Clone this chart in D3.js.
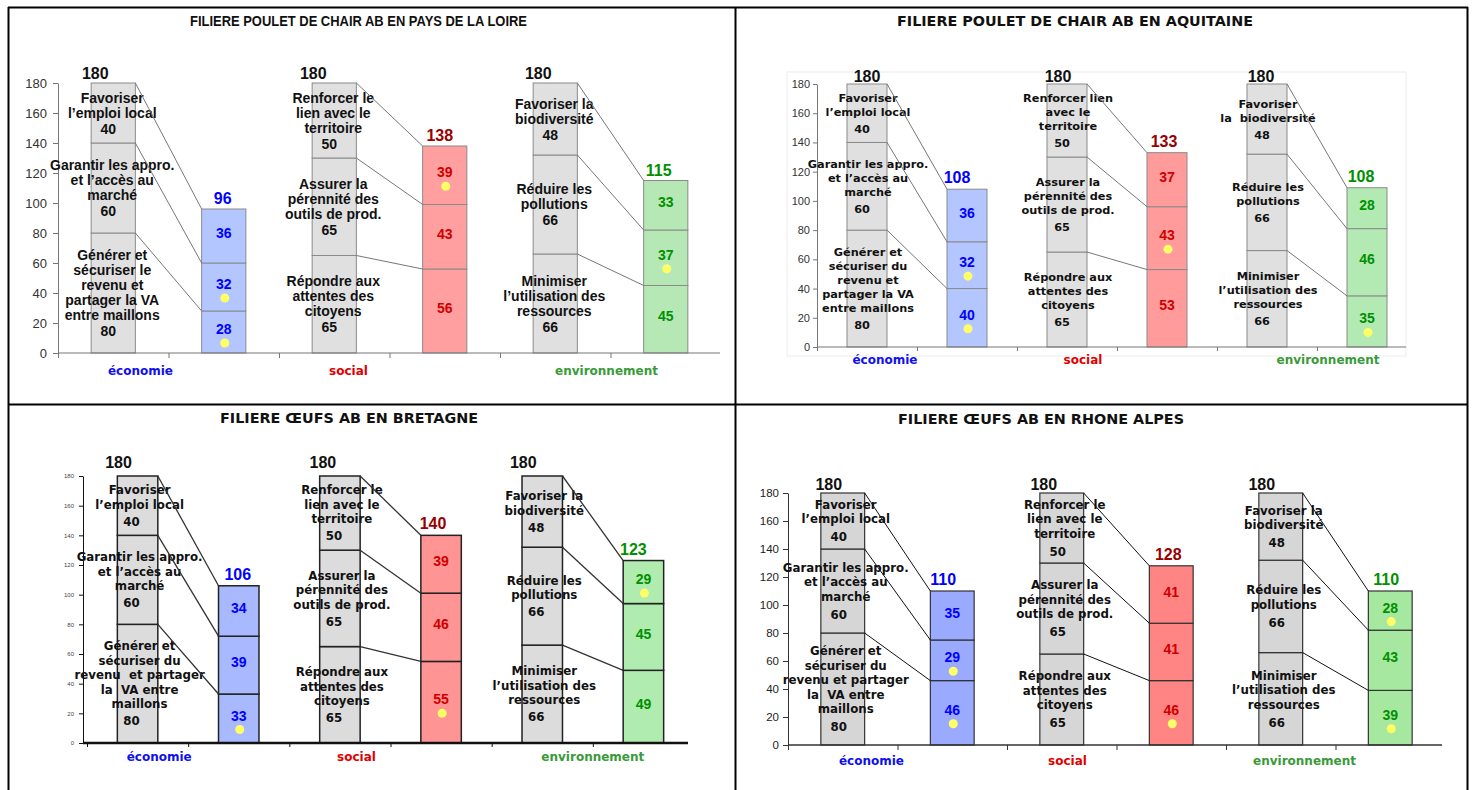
<!DOCTYPE html>
<html>
<head>
<meta charset="utf-8">
<script src="https://cdn.jsdelivr.net/npm/d3@7"></script>
<style>
body { margin: 0; background: #fff; }
</style>
</head>
<body>
<script>
var W = 1475, H = 790;

// ---- data ----
var panelTitles = [
    "FILIERE POULET DE CHAIR AB EN PAYS DE LA LOIRE",
    "FILIERE POULET DE CHAIR AB EN AQUITAINE",
    "FILIERE ŒUFS AB EN BRETAGNE",
    "FILIERE ŒUFS AB EN RHONE ALPES"
];
var pillars = ["économie", "social", "environnement"];
var yTicks = [0, 20, 40, 60, 80, 100, 120, 140, 160, 180];

// reference scores (grey bars), bottom to top
var refScores = [[80, 60, 40], [65, 65, 50], [66, 66, 48]];

// scores obtained (coloured bars), bottom to top
var scoresLoire     = [[28, 32, 36], [56, 43, 39], [45, 37, 33]];
var scoresAquitaine = [[40, 32, 36], [53, 43, 37], [35, 46, 28]];
var scoresBretagne  = [[33, 39, 34], [55, 46, 39], [49, 45, 29]];
var scoresRhone     = [[46, 29, 35], [46, 41, 41], [39, 43, 28]];

var totalsLoire     = [96, 138, 115];
var totalsAquitaine = [108, 133, 108];
var totalsBretagne  = [106, 140, 123];
var totalsRhone     = [110, 128, 110];

// yellow dots marking segments
var dotsLoire     = [[1, 1, 0], [0, 0, 1], [0, 1, 0]];
var dotsAquitaine = [[1, 1, 0], [0, 1, 0], [1, 0, 0]];
var dotsBretagne  = [[1, 0, 0], [1, 0, 0], [0, 0, 1]];
var dotsRhone     = [[1, 1, 0], [1, 0, 0], [1, 0, 1]];

var labelsLoire = [
    [["Générer et", "sécuriser le", "revenu et", "partager la VA", "entre maillons"],
     ["Garantir les appro.", "et l’accès au", "marché"],
     ["Favoriser", "l’emploi local"]],
    [["Répondre aux", "attentes des", "citoyens"],
     ["Assurer la", "pérennité des", "outils de prod."],
     ["Renforcer le", "lien avec le", "territoire"]],
    [["Minimiser", "l’utilisation des", "ressources"],
     ["Réduire les", "pollutions"],
     ["Favoriser la", "biodiversité"]]
];
var labelsAquitaine = [
    [["Générer et", "sécuriser du", "revenu et", "partager la VA", "entre maillons"],
     ["Garantir les appro.", "et l’accès au", "marché"],
     ["Favoriser", "l’emploi local"]],
    [["Répondre aux", "attentes des", "citoyens"],
     ["Assurer la", "pérennité des", "outils de prod."],
     ["Renforcer lien", "avec le", "territoire"]],
    [["Minimiser", "l’utilisation des", "ressources"],
     ["Réduire les", "pollutions"],
     ["Favoriser", "la  biodiversité"]]
];
var labelsBretagne = [
    [["Générer et", "sécuriser du", "revenu  et partager", "la  VA entre", "maillons"],
     ["Garantir les appro.", "et l’accès au", "marché"],
     ["Favoriser", "l’emploi local"]],
    [["Répondre aux", "attentes des", "citoyens"],
     ["Assurer la", "pérennité des", "outils de prod."],
     ["Renforcer le", "lien avec le", "territoire"]],
    [["Minimiser", "l’utilisation des", "ressources"],
     ["Réduire les", "pollutions"],
     ["Favoriser la", "biodiversité"]]
];
var labelsRhone = [
    [["Générer et", "sécuriser du", "revenu et partager", "la  VA entre", "maillons"],
     ["Garantir les appro.", "et l’accès au", "marché"],
     ["Favoriser", "l’emploi local"]],
    [["Répondre aux", "attentes des", "citoyens"],
     ["Assurer la", "pérennité des", "outils de prod."],
     ["Renforcer le", "lien avec le", "territoire"]],
    [["Minimiser", "l’utilisation des", "ressources"],
     ["Réduire les", "pollutions"],
     ["Favoriser la", "biodiversité"]]
];

// ---- styles / layout ----
var arial = "'Liberation Sans', Arial, sans-serif";
var verdana = "'DejaVu Sans', Verdana, sans-serif";
var catColors = ["#1010ee", "#e00000", "#3a9a3a"];
var valColors = ["#0000ff", "#d00000", "#009000"];
var totColors = ["#0000ff", "#990000", "#009000"];

var layoutLoire = {
    titleX: 358.5, titleY: 26, titleLen: 337, titleFont: "'Liberation Sans Narrow', " + arial, titleSize: 15.5,
    axisX: 58, bandL: 58, bandR: 721, axisEnd: 720, yBottom: 353, yTop: 83,
    tickFont: 13, tickPad: 6, tickSize: 5, tickColor: "#333",
    labelFont: arial, labelSize: 14, lh: 15, vGap: 16, textDx: -1, valDx: -5,
    refDx: [-18, -21, -17], refGap: 4, totDx: [-1, -5, -7], totGap: 5,
    catDx: [-28, -41, -4], catY: 375,
    gray: "#e0e0e0", fills: ["#b4c6ff", "#ff9f9f", "#b6e8b6"], stroke: "#8a8a8a", strokeW: 1,
    axisColor: "#777", xAxisW: 1, connColor: "#777", connW: 1, frame: null
};
var layoutAquitaine = {
    titleX: 1075, titleY: 26, titleLen: 356, titleFont: verdana, titleSize: 14,
    axisX: 817, bandL: 817, bandR: 1417, axisEnd: 1406, yBottom: 347, yTop: 84,
    tickFont: 11, tickPad: 3, tickSize: 4, tickColor: "#333",
    labelFont: verdana, labelSize: 11.3, lh: 14, vGap: 17, textDx: 1, valDx: -5,
    refDx: [0, -9, -6], refGap: 2, totDx: [-10, -3, -6], totGap: 6,
    catDx: [-32, -34, 11], catY: 364,
    gray: "#e0e0e0", fills: ["#b3c6ff", "#ff9b9b", "#b3eab3"], stroke: "#8a8a8a", strokeW: 1,
    axisColor: "#777", xAxisW: 1, connColor: "#777", connW: 1, frame: [787, 72, 1406, 356]
};
var layoutBretagne = {
    titleX: 349, titleY: 423, titleLen: 258, titleFont: verdana, titleSize: 14,
    axisX: 83, bandL: 87, bandR: 694, axisEnd: 688, yBottom: 743, yTop: 476,
    tickFont: 6, tickPad: 5, tickSize: 4, tickColor: "#444",
    labelFont: verdana, labelSize: 11.8, lh: 14.5, vGap: 17, textDx: 2, valDx: -6,
    refDx: [-19, -17, -19], refGap: 8, totDx: [-1, -8, -10], totGap: 6,
    catDx: [-29, -34, 0], catY: 761,
    gray: "#dcdcdc", fills: ["#a9b9ff", "#ff9494", "#b0ebb0"], stroke: "#222", strokeW: 1.5,
    axisColor: "#111", xAxisW: 2.5, connColor: "#333", connW: 1.3, frame: null
};
var layoutRhone = {
    titleX: 1041, titleY: 424, titleLen: 286, titleFont: verdana, titleSize: 14,
    axisX: 788, bandL: 788, bandR: 1445, axisEnd: 1442, yBottom: 745, yTop: 493,
    tickFont: 11.5, tickPad: 4, tickSize: 5, tickColor: "#222",
    labelFont: verdana, labelSize: 11.8, lh: 14.5, vGap: 18, textDx: 3, valDx: -4,
    refDx: [-14, -18, -19], refGap: 3, totDx: [-9, -3, -4], totGap: 6,
    catDx: [-26, -49, -31], catY: 765,
    gray: "#d6d6d6", fills: ["#9aabff", "#ff8484", "#a6e8a0"], stroke: "#333", strokeW: 1.2,
    axisColor: "#333", xAxisW: 1.5, connColor: "#111", connW: 1, frame: null
};

var panels = [
    { title: panelTitles[0], scores: scoresLoire, totals: totalsLoire, dots: dotsLoire, labels: labelsLoire, L: layoutLoire },
    { title: panelTitles[1], scores: scoresAquitaine, totals: totalsAquitaine, dots: dotsAquitaine, labels: labelsAquitaine, L: layoutAquitaine },
    { title: panelTitles[2], scores: scoresBretagne, totals: totalsBretagne, dots: dotsBretagne, labels: labelsBretagne, L: layoutBretagne },
    { title: panelTitles[3], scores: scoresRhone, totals: totalsRhone, dots: dotsRhone, labels: labelsRhone, L: layoutRhone }
];

var svg = d3.select("body").append("svg")
    .attr("width", W)
    .attr("height", H)
    .style("display", "block");

function cum(arr) {
    return [0].concat(Array.from(d3.cumsum(arr)));
}

function drawPanel(p) {
    var L = p.L;
    var g = svg.append("g");

    var y = d3.scaleLinear().domain([0, 180]).range([L.yBottom, L.yTop]);
    var x = d3.scaleBand().domain(d3.range(6)).range([L.bandL, L.bandR])
        .paddingInner(0.6).paddingOuter(0.3);
    var bw = x.bandwidth(), step = x.step();

    // title
    g.append("text")
        .attr("x", L.titleX - L.titleLen / 2)
        .attr("y", L.titleY)
        .attr("textLength", L.titleLen)
        .attr("lengthAdjust", "spacingAndGlyphs")
        .style("font-family", L.titleFont)
        .style("font-size", L.titleSize + "px")
        .style("font-weight", "bold")
        .attr("fill", "#111")
        .text(p.title);

    if (L.frame) {
        g.append("rect")
            .attr("x", L.frame[0]).attr("y", L.frame[1])
            .attr("width", L.frame[2] - L.frame[0]).attr("height", L.frame[3] - L.frame[1])
            .attr("fill", "none").attr("stroke", "#ececec");
    }

    // y axis
    var ya = g.append("g")
        .attr("transform", "translate(" + L.axisX + ",0)")
        .call(d3.axisLeft(y).tickValues(yTicks).tickSize(L.tickSize).tickSizeOuter(0).tickPadding(L.tickPad));
    ya.selectAll("path, line").attr("stroke", L.axisColor);
    ya.selectAll("text")
        .style("font-family", arial)
        .style("font-size", L.tickFont + "px")
        .attr("fill", L.tickColor);

    // x axis: ticks between categories
    var xb = d3.scaleLinear().domain([0, 6]).range([L.bandL, L.bandR]);
    var xa = g.append("g")
        .attr("transform", "translate(0," + L.yBottom + ")")
        .call(d3.axisBottom(xb).tickValues(d3.range(6)).tickSize(L.tickSize).tickFormat(""));
    xa.select(".domain").remove();
    xa.selectAll("line").attr("stroke", L.axisColor);

    pillars.forEach(function (name, i) {
        var ref = refScores[i], sc = p.scores[i];
        var refCum = cum(ref), colCum = cum(sc);
        var gx = x(2 * i), cx = x(2 * i + 1);

        // grey reference stack
        g.selectAll(null).data(ref).enter().append("rect")
            .attr("x", gx)
            .attr("y", function (d, k) { return y(refCum[k + 1]); })
            .attr("width", bw)
            .attr("height", function (d, k) { return y(refCum[k]) - y(refCum[k + 1]); })
            .attr("fill", L.gray)
            .attr("stroke", L.stroke)
            .attr("stroke-width", L.strokeW);

        // coloured stack
        g.selectAll(null).data(sc).enter().append("rect")
            .attr("x", cx)
            .attr("y", function (d, k) { return y(colCum[k + 1]); })
            .attr("width", bw)
            .attr("height", function (d, k) { return y(colCum[k]) - y(colCum[k + 1]); })
            .attr("fill", L.fills[i])
            .attr("stroke", L.stroke)
            .attr("stroke-width", L.strokeW);

        // grey segment labels
        ref.forEach(function (v, k) {
            var lines = p.labels[i][k];
            var mid = (y(refCum[k]) + y(refCum[k + 1])) / 2;
            var span = (lines.length - 1) * L.lh + L.vGap;
            var first = mid - span / 2;
            var base = 0.36 * L.labelSize;
            var t = g.append("g")
                .style("font-family", L.labelFont)
                .style("font-size", L.labelSize + "px")
                .style("font-weight", "bold")
                .attr("fill", "#111")
                .attr("text-anchor", "middle");
            t.selectAll(null).data(lines).enter().append("text")
                .attr("x", gx + bw / 2 + L.textDx)
                .attr("y", function (d, j) { return first + j * L.lh + base; })
                .style("white-space", "pre")
                .text(function (d) { return d; });
            t.append("text")
                .attr("x", gx + bw / 2 + L.valDx)
                .attr("y", first + (lines.length - 1) * L.lh + L.vGap + base)
                .text(v);
        });

        // connectors between boundaries
        g.selectAll(null).data([1, 2, 3]).enter().append("line")
            .attr("x1", gx + bw)
            .attr("y1", function (k) { return y(refCum[k]); })
            .attr("x2", cx)
            .attr("y2", function (k) { return y(colCum[k]); })
            .attr("stroke", L.connColor)
            .attr("stroke-width", L.connW);

        // coloured segment values and dots
        sc.forEach(function (v, k) {
            var c = (y(colCum[k]) + y(colCum[k + 1])) / 2 - 3;
            g.append("text")
                .attr("x", cx + bw / 2)
                .attr("y", c + 5)
                .attr("text-anchor", "middle")
                .style("font-family", arial)
                .style("font-size", "14px")
                .style("font-weight", "bold")
                .attr("fill", valColors[i])
                .text(v);
            if (p.dots[i][k]) {
                g.append("circle")
                    .attr("cx", cx + bw / 2 + 1)
                    .attr("cy", c + 14)
                    .attr("r", 4.5)
                    .attr("fill", "#ffff66");
            }
        });

        // totals
        g.append("text")
            .attr("x", gx + bw / 2 + L.refDx[i])
            .attr("y", y(d3.sum(ref)) - L.refGap)
            .attr("text-anchor", "middle")
            .style("font-family", arial)
            .style("font-size", "16px")
            .style("font-weight", "bold")
            .attr("fill", "#111")
            .text(d3.sum(ref));
        g.append("text")
            .attr("x", cx + bw / 2 + L.totDx[i])
            .attr("y", y(colCum[3]) - L.totGap)
            .attr("text-anchor", "middle")
            .style("font-family", arial)
            .style("font-size", "16px")
            .style("font-weight", "bold")
            .attr("fill", totColors[i])
            .text(p.totals[i]);

        // pillar name
        g.append("text")
            .attr("x", gx + step * 0.7 + L.catDx[i])
            .attr("y", L.catY)
            .attr("text-anchor", "middle")
            .style("font-family", verdana)
            .style("font-size", "12px")
            .style("font-weight", "bold")
            .attr("fill", catColors[i])
            .text(name);
    });

    // x axis line on top of bars
    g.append("line")
        .attr("x1", L.axisX).attr("x2", L.axisEnd)
        .attr("y1", L.yBottom).attr("y2", L.yBottom)
        .attr("stroke", L.axisColor)
        .attr("stroke-width", L.xAxisW);
}

panels.forEach(drawPanel);

// table borders
var borders = svg.append("g").attr("stroke", "#000").attr("stroke-width", 2);
[8.5, 735.5, 1467.5].forEach(function (bx) {
    borders.append("line").attr("x1", bx).attr("x2", bx).attr("y1", 7).attr("y2", H);
});
[7.5, 404.5].forEach(function (by) {
    borders.append("line").attr("x1", 8).attr("x2", 1468).attr("y1", by).attr("y2", by);
});
</script>
</body>
</html>
